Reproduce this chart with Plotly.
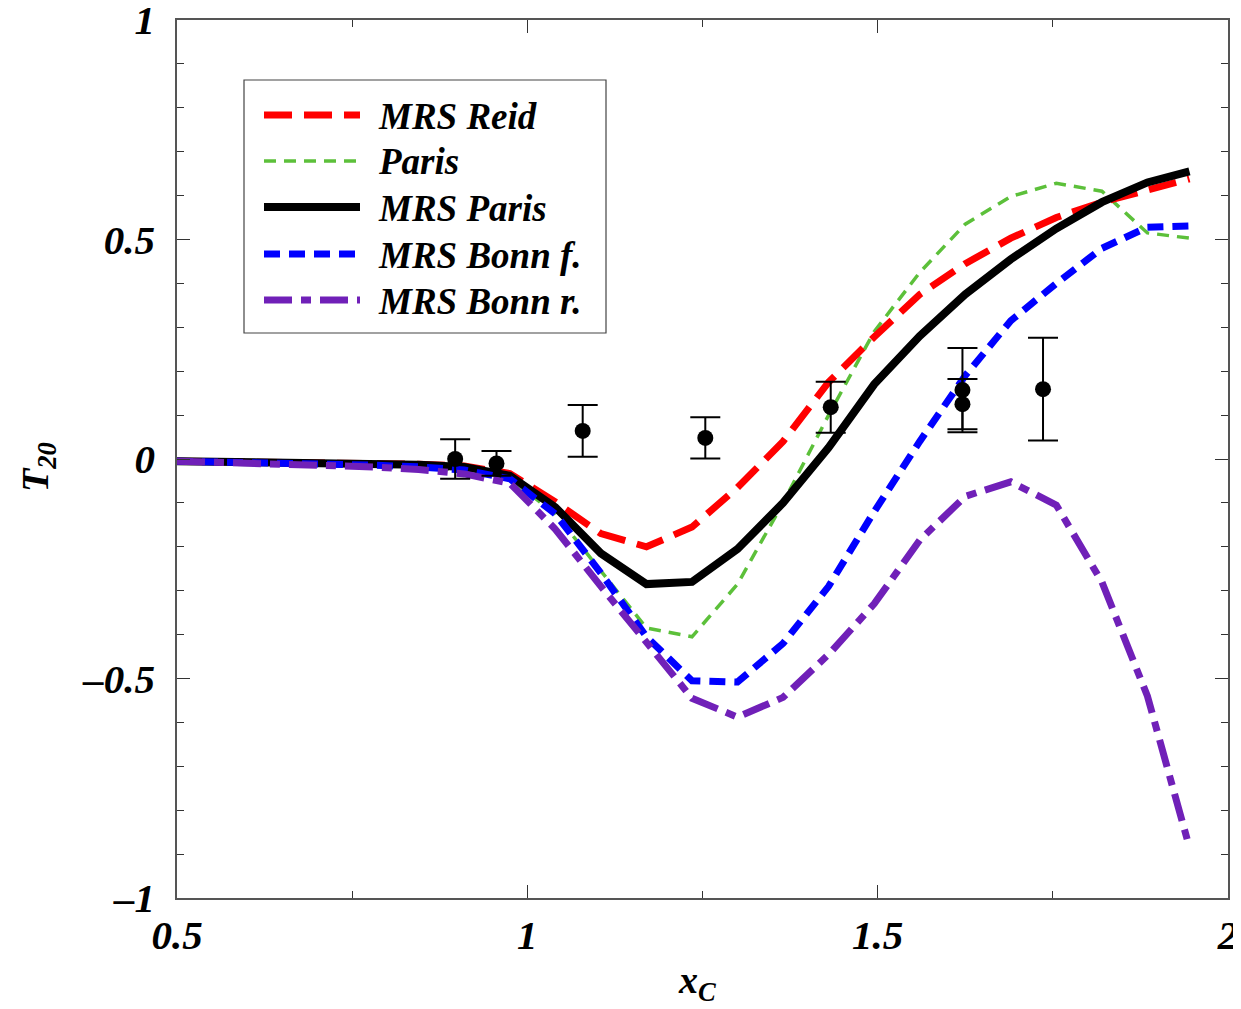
import plotly.graph_objects as go

# ---------------- data ----------------
x_grid = [0.5, 0.585, 0.65, 0.715, 0.78, 0.845, 0.91, 0.975, 1.04, 1.105, 1.17,
          1.235, 1.30, 1.365, 1.43, 1.495, 1.56, 1.625, 1.69, 1.755, 1.82, 1.885, 1.945]

mrs_reid = [-0.005, -0.006, -0.007, -0.008, -0.010, -0.012, -0.016, -0.033, -0.098, -0.170, -0.200,
            -0.155, -0.065, 0.040, 0.175, 0.278, 0.375, 0.445, 0.503, 0.550, 0.585, 0.612, 0.638]
paris = [-0.005, -0.007, -0.009, -0.011, -0.014, -0.018, -0.025, -0.045, -0.125, -0.255, -0.385,
         -0.405, -0.285, -0.100, 0.100, 0.290, 0.425, 0.535, 0.598, 0.628, 0.610, 0.515, 0.503]
mrs_paris = [-0.005, -0.006, -0.007, -0.008, -0.010, -0.013, -0.018, -0.038, -0.110, -0.215, -0.285,
             -0.280, -0.205, -0.100, 0.026, 0.170, 0.280, 0.375, 0.455, 0.525, 0.585, 0.630, 0.655]
mrs_bonn_f = [-0.005, -0.007, -0.009, -0.011, -0.014, -0.018, -0.025, -0.045, -0.125, -0.260, -0.405,
              -0.505, -0.508, -0.420, -0.290, -0.120, 0.040, 0.190, 0.315, 0.400, 0.480, 0.528, 0.531]
mrs_bonn_r = [-0.005, -0.008, -0.011, -0.014, -0.018, -0.024, -0.034, -0.055, -0.160, -0.290, -0.420,
              -0.545, -0.588, -0.543, -0.445, -0.330, -0.185, -0.085, -0.052, -0.105, -0.280, -0.540, -0.885]

exp_x = [0.897, 0.956, 1.079, 1.254, 1.433, 1.621, 1.621, 1.736]
exp_y = [0.000, -0.010, 0.064, 0.048, 0.118, 0.157, 0.125, 0.159]
exp_err = [0.045, 0.028, 0.059, 0.047, 0.058, 0.096, 0.057, 0.117]

legend_labels = ["MRS Reid", "Paris", "MRS Paris", "MRS Bonn f.", "MRS Bonn r."]
colors = ["#ff0000", "#5cc03a", "#000000", "#0000ff", "#7020b8"]
dashes = ["28px,12px", "12px,8px", "solid", "16px,9px", "28px,9px,10px,9px"]
widths = [7, 3.5, 8, 7, 7]
series = [mrs_reid, paris, mrs_paris, mrs_bonn_f, mrs_bonn_r]

FONT = "Liberation Serif"

fig = go.Figure()

# drawing order: Paris, Reid, MRS Paris, Bonn f., Bonn r.
for i in [1, 0, 2, 3, 4]:
    fig.add_trace(go.Scatter(x=x_grid, y=series[i], mode="lines", name=legend_labels[i],
                             line=dict(color=colors[i], width=widths[i], dash=dashes[i]),
                             showlegend=False))

fig.add_trace(go.Scatter(x=exp_x, y=exp_y, mode="markers",
                         marker=dict(color="black", size=16),
                         error_y=dict(type="data", array=exp_err, visible=True,
                                      color="black", thickness=2, width=15),
                         showlegend=False))

# ------------- layout geometry (page pixels; body has an 8px margin) -------------
OFF = 8
W, H = 1241 - OFF, 1009 - OFF
PL, PR, PT, PB = 177, 1228, 20, 898   # plot area in page pixels
L, T = PL - OFF, PT - OFF
R = W - (PR - OFF)
B = H - (PB - OFF)
pw, ph = W - L - R, H - T - B

def px2paper_x(px):
    return (px - PL) / pw

def px2paper_y(py):
    return 1 - (py - PT) / ph

# ------------- manual legend -------------
fig.add_shape(type="rect", xref="paper", yref="paper",
              x0=px2paper_x(244), x1=px2paper_x(606),
              y0=px2paper_y(333), y1=px2paper_y(80),
              line=dict(color="#444", width=1.2), fillcolor="white", layer="below")

rows = [115, 161, 207, 254, 300]
for i, ry in enumerate(rows):
    fig.add_shape(type="line", xref="paper", yref="paper",
                  x0=px2paper_x(264), x1=px2paper_x(360),
                  y0=px2paper_y(ry), y1=px2paper_y(ry),
                  line=dict(color=colors[i], width=widths[i], dash=dashes[i]))
    fig.add_annotation(x=px2paper_x(376), y=px2paper_y(ry + 1), xref="paper", yref="paper",
                       text=legend_labels[i], showarrow=False, xanchor="left", yanchor="middle",
                       font=dict(family=FONT, size=37, color="black", weight="bold", style="italic"))

# axis titles as annotations
title_font = dict(family=FONT, size=38, color="black", weight="bold", style="italic")
fig.add_annotation(x=px2paper_x(697), y=px2paper_y(983), xref="paper", yref="paper",
                   text="x<sub>C</sub>", showarrow=False, xanchor="center", yanchor="middle",
                   font=title_font)
fig.add_annotation(x=px2paper_x(38), y=px2paper_y(467), xref="paper", yref="paper",
                   text="T<sub>20</sub>", showarrow=False, xanchor="center", yanchor="middle",
                   textangle=-90, font=title_font)

axis_common = dict(
    showgrid=False, zeroline=False, showline=True, linecolor="#555", linewidth=1.5,
    mirror="ticks", ticks="inside", ticklen=13, tickwidth=1.2, tickcolor="#333",
    automargin=False, ticklabeloverflow="allow",
    tickfont=dict(family=FONT, size=41, color="black", weight="bold", style="italic"),
)

fig.update_xaxes(range=[0.5, 2], tickvals=[0.5, 1, 1.5, 2], ticktext=["0.5", "1", "1.5", "2"],
                 minor=dict(dtick=0.25, tick0=0.5, ticks="inside", ticklen=7, tickcolor="#333", tickwidth=1.2),
                 ticklabelstandoff=0,
                 **axis_common)
fig.update_yaxes(range=[-1, 1], tickvals=[-1, -0.5, 0, 0.5, 1],
                 ticktext=["\u20131", "\u20130.5", "0", "0.5", "1"],
                 minor=dict(dtick=0.1, tick0=0, ticks="inside", ticklen=7, tickcolor="#333", tickwidth=1.2),
                 ticklabelstandoff=12,
                 **axis_common)

fig.update_layout(width=W, height=H, margin=dict(l=L, r=R, t=T, b=B, autoexpand=False),
                  paper_bgcolor="white", plot_bgcolor="white", showlegend=False)

fig.write_html("out.html")
